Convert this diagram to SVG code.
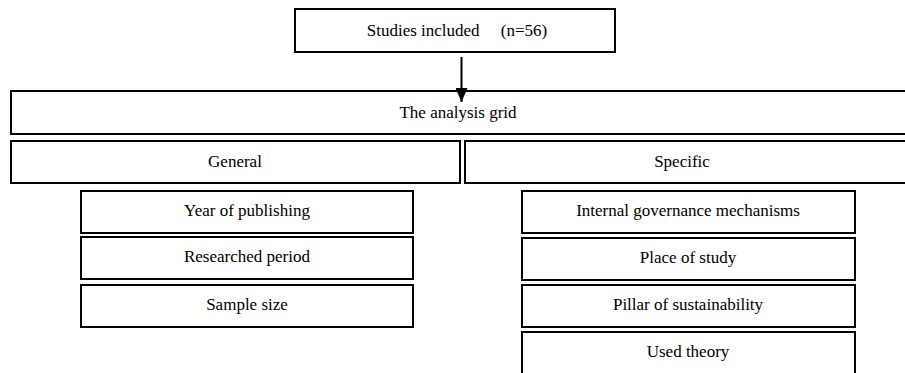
<svg xmlns="http://www.w3.org/2000/svg" width="905" height="373" viewBox="0 0 905 373">
<style>
.b{fill:#fff;stroke:#000;stroke-width:2}
.t{font-family:"Liberation Serif","Times New Roman",Times,serif;font-size:17px;fill:#000;text-anchor:middle}
</style>
<defs>
<marker id="ah" markerWidth="14" markerHeight="12" refX="14" refY="6" orient="auto" markerUnits="userSpaceOnUse" viewBox="0 0 14 12">
<path d="M0,0 L14,6 L0,12 Z" fill="#000"/>
</marker>
</defs>
<rect width="905" height="373" fill="#fff"/>
<g id="studies"><rect class="b" x="295" y="9" width="320" height="43"/><text class="t" x="457" y="36" xml:space="preserve">Studies included     (n=56)</text></g>
<g id="grid"><rect class="b" x="11" y="91" width="900" height="43"/><text class="t" x="458" y="118">The analysis grid</text></g>
<g id="general"><rect class="b" x="11" y="141" width="449" height="42"/><text class="t" x="235" y="167">General</text></g>
<g id="specific"><rect class="b" x="465" y="141" width="446" height="42"/><text class="t" x="682" y="167">Specific</text></g>
<g id="year"><rect class="b" x="81" y="191" width="332" height="42"/><text class="t" x="247" y="216">Year of publishing</text></g>
<g id="period"><rect class="b" x="81" y="237" width="332" height="42"/><text class="t" x="247" y="262">Researched period</text></g>
<g id="sample"><rect class="b" x="81" y="285" width="332" height="42"/><text class="t" x="247" y="310">Sample size</text></g>
<g id="igm"><rect class="b" x="522" y="191" width="333" height="42"/><text class="t" x="688" y="216">Internal governance mechanisms</text></g>
<g id="place"><rect class="b" x="522" y="238" width="333" height="42"/><text class="t" x="688" y="263">Place of study</text></g>
<g id="pillar"><rect class="b" x="522" y="285" width="333" height="42"/><text class="t" x="688" y="310">Pillar of sustainability</text></g>
<g id="theory"><rect class="b" x="522" y="332" width="333" height="45"/><text class="t" x="688" y="357">Used theory</text></g>
<g id="connectors"><line x1="461.5" y1="57" x2="461.5" y2="102" stroke="#000" stroke-width="2" marker-end="url(#ah)"/></g>
</svg>
